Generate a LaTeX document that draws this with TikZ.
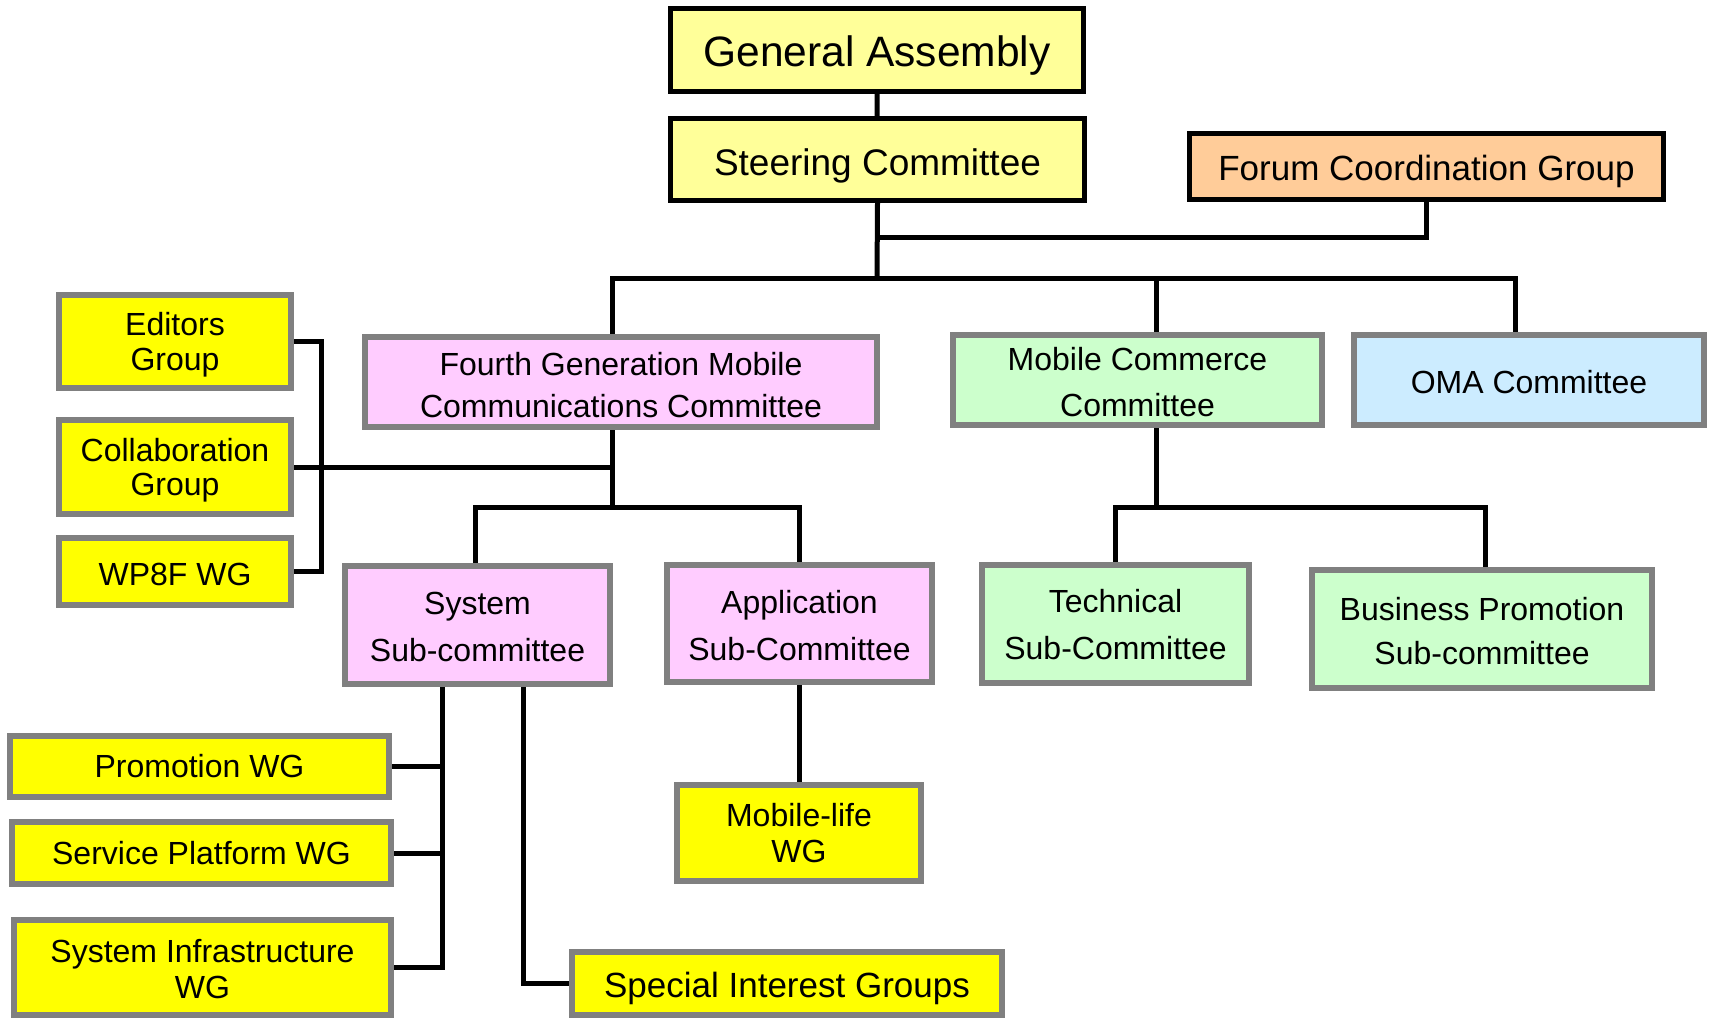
\documentclass[tikz,border=0pt]{standalone}
\usepackage{fontspec}
\setmainfont{Liberation Sans}
\usetikzlibrary{backgrounds}
\definecolor{gayel}{HTML}{FFFF99}
\definecolor{forum}{HTML}{FFCC99}
\definecolor{pinkc}{HTML}{FFCCFF}
\definecolor{greenc}{HTML}{CCFFCC}
\definecolor{bluec}{HTML}{CCECFF}
\definecolor{yelc}{HTML}{FFFF00}
\definecolor{grayb}{HTML}{808080}
\tikzset{
  blackbox/.style={draw=black, line width=5pt, inner sep=0pt, align=center, text=black},
  graybox/.style={draw=grayb, line width=6pt, inner sep=0pt, align=center, text=black},
  conn/.style={draw=black, line width=5pt, line join=miter},
  tx/.style n args={3}{font=\fontsize{#1}{#2}\selectfont, text depth=0pt, text height=#3},
}
\begin{document}
\begin{tikzpicture}[x=1pt,y=-1pt]
\useasboundingbox (0,0) rectangle (1709,1018);

% top level
\node[blackbox, fill=gayel, minimum width=413pt, minimum height=83pt, tx={42.5}{48}{33.2pt}] (GA) at (877,50) {General Assembly};
\node[blackbox, fill=gayel, minimum width=414pt, minimum height=82pt, tx={37}{42}{31.3pt}] (SC) at (877.5,159.5) {Steering Committee};
\node[blackbox, fill=forum, minimum width=474pt, minimum height=66pt, tx={35}{40}{27.5pt}] (FCG) at (1426.5,166.5) {Forum Coordination Group};

% committees
\node[graybox, fill=pinkc, minimum width=512pt, minimum height=90pt, tx={32}{42}{70.7pt}] (FG) at (621,382) {Fourth Generation Mobile\\Communications Committee};
\node[graybox, fill=greenc, minimum width=369pt, minimum height=90pt, tx={32}{46}{73.5pt}] (MC) at (1137.5,380) {Mobile Commerce\\Committee};
\node[graybox, fill=bluec, minimum width=350pt, minimum height=90pt, tx={32}{40}{26.5pt}] (OMA) at (1529,380) {OMA Committee};

% left groups
\node[graybox, fill=yelc, minimum width=232pt, minimum height=93pt, tx={32}{35}{57.9pt}] (ED) at (175,341.5) {Editors\\Group};
\node[graybox, fill=yelc, minimum width=232pt, minimum height=94pt, tx={32}{34}{57.4pt}] (CO) at (175,467) {Collaboration\\Group};
\node[graybox, fill=yelc, minimum width=232pt, minimum height=67pt, tx={32}{36}{27.7pt}] (WP) at (175,571.5) {WP8F WG};

% sub-committees
\node[graybox, fill=pinkc, minimum width=265pt, minimum height=118pt, tx={32}{47}{72.5pt}] (SYS) at (477.5,625) {System\\Sub-committee};
\node[graybox, fill=pinkc, minimum width=265pt, minimum height=117pt, tx={32}{47}{73.7pt}] (APP) at (799.5,623.5) {Application\\Sub-Committee};
\node[graybox, fill=greenc, minimum width=267pt, minimum height=118pt, tx={32}{47}{71.3pt}] (TEC) at (1115.5,624) {Technical\\Sub-Committee};
\node[graybox, fill=greenc, minimum width=340pt, minimum height=118pt, tx={32}{43.5}{70pt}] (BUS) at (1482,629) {Business Promotion\\Sub-committee};

% working groups
\node[graybox, fill=yelc, minimum width=244pt, minimum height=96pt, tx={32}{36.5}{59.4pt}] (ML) at (799,833) {Mobile-life\\WG};
\node[graybox, fill=yelc, minimum width=379pt, minimum height=61pt, tx={32}{36}{22.9pt}] (PR) at (199.5,766.5) {Promotion WG};
\node[graybox, fill=yelc, minimum width=379pt, minimum height=62pt, tx={32}{36}{22.9pt}] (SP) at (201.5,853) {Service Platform WG};
\node[graybox, fill=yelc, minimum width=377pt, minimum height=95pt, tx={32}{36}{62.5pt}] (SI) at (202.5,967.5) {System Infrastructure\\WG};
\node[graybox, fill=yelc, minimum width=430pt, minimum height=63pt, tx={35}{40}{28.9pt}] (SIG) at (787,983.5) {Special Interest Groups};

% junction coordinates
\coordinate (bus) at (877,278);
\coordinate (fj) at (877,237);
\coordinate (bL) at (612,278);
\coordinate (bM) at (1156,278);
\coordinate (bR) at (1515,278);
\coordinate (g) at (612,507);
\coordinate (sL) at (475,507);
\coordinate (sR) at (799,507);
\coordinate (m) at (1156,507);
\coordinate (mL) at (1115,507);
\coordinate (mR) at (1485,507);
\coordinate (br) at (321,0);
\coordinate (v1) at (442,0);
\coordinate (v2) at (523,0);

\begin{scope}[on background layer]
\fill[white] (0,0) rectangle (1709,1018);
\draw[conn] (GA.south) -- (SC.south);
\draw[conn] (SC.south) -- (bus);
\draw[conn] (fj) -| (FCG.south);
\draw[conn] (bL |- FG.north) -- (bL) -- (bR) -- (bR |- OMA.north);
\draw[conn] (bM) -- (bM |- MC.north);
\draw[conn] (g |- FG.south) -- (g);
\draw[conn] (CO.east) -- (CO.east -| g);
\draw[conn] (ED.east) -| (br |- ED.east) |- (WP.east);
\draw[conn] (sL |- SYS.north) -- (sL) -- (sR) -- (sR |- APP.north);
\draw[conn] (sR |- APP.south) -- (sR |- ML.north);
\draw[conn] (v1 |- SYS.south) -- (v1 |- SI.east) -- (SI.east);
\draw[conn] (PR.east) -- (PR.east -| v1);
\draw[conn] (SP.east) -- (SP.east -| v1);
\draw[conn] (v2 |- SYS.south) |- (SIG.west);
\draw[conn] (m |- MC.south) -- (m);
\draw[conn] (mL |- TEC.north) -- (mL) -- (mR) -- (mR |- BUS.north);
\end{scope}
\end{tikzpicture}
\end{document}
